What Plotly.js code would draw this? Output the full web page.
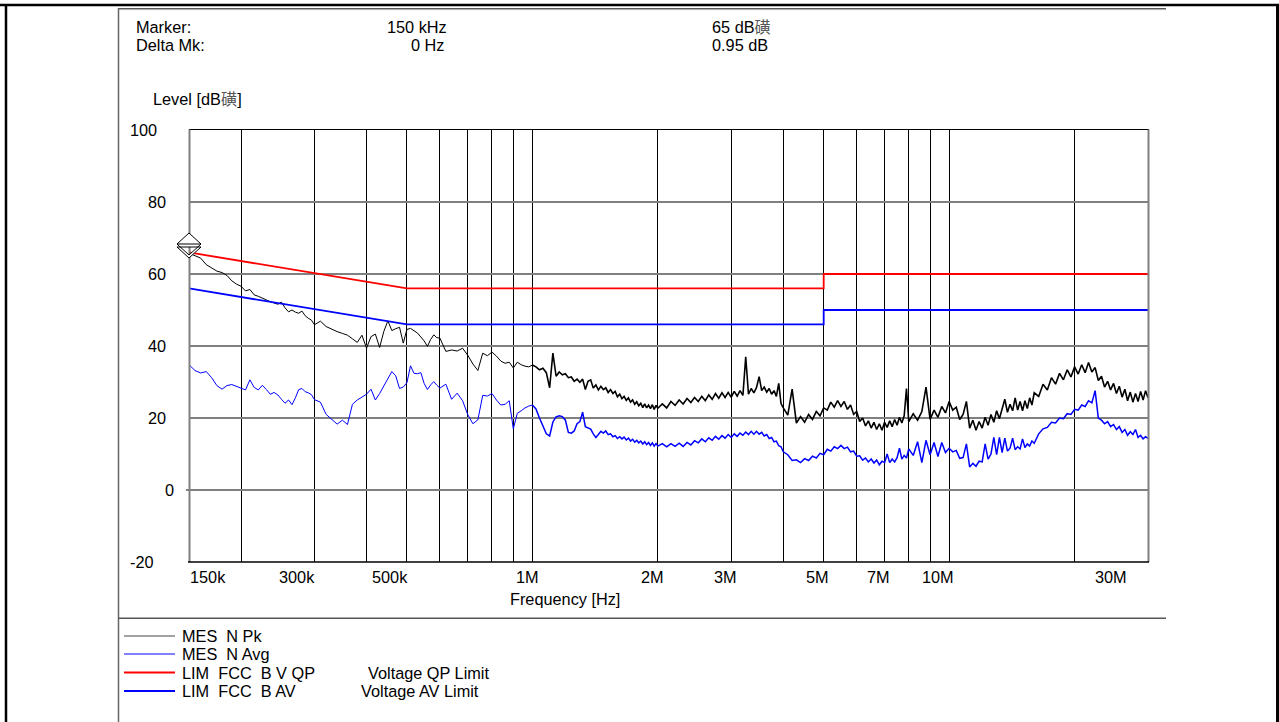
<!DOCTYPE html>
<html><head><meta charset="utf-8">
<script src="https://cdn.plot.ly/plotly-3.0.1.min.js"></script>
<style>html,body{margin:0;padding:0;background:#fff;overflow:hidden}#chart{width:1279px;height:722px}</style>
</head><body><div id="chart"></div>
<script>
// ---------------- data ----------------
const freqMHz = [
0.150,0.155,0.160,0.165,0.170,0.175,0.180,0.185,0.190,0.195,0.200,0.205,0.210,0.215,0.220,0.225,0.230,0.235,0.240,0.245,0.250,0.255,0.260,0.265,0.270,0.275,0.280,0.285,0.290,0.295,0.300,
0.31,0.32,0.33,0.34,0.35,0.36,0.37,0.38,0.39,0.40,0.41,0.42,0.43,0.44,0.45,0.46,0.47,0.48,0.49,0.50,0.51,0.52,0.53,0.54,0.55,0.56,0.57,0.58,0.59,0.60,
0.62,0.64,0.66,0.68,0.70,0.72,0.74,0.76,0.78,0.80,0.82,0.84,0.86,0.88,0.90,0.92,0.94,0.96,0.98,1.00,
1.02,1.04,1.06,1.08,1.10,1.12,1.14,1.16,1.18,1.20,1.22,1.24,1.26,1.28,1.30,1.32,1.34,1.36,1.38,1.40,1.42,1.44,1.46,1.48,1.50,1.52,1.54,1.56,1.58,1.60,1.62,1.64,1.66,1.68,1.70,1.72,1.74,1.76,1.78,1.80,1.82,1.84,1.86,1.88,1.90,1.92,1.94,1.96,1.98,2.00,
2.05,2.10,2.15,2.20,2.25,2.30,2.35,2.40,2.45,2.50,2.55,2.60,2.65,2.70,2.75,2.80,2.85,2.90,2.95,3.00,3.05,3.10,3.15,3.20,3.25,3.30,3.35,3.40,3.45,3.50,3.55,3.60,3.65,3.70,3.75,3.80,3.85,3.90,3.95,4.00,
4.1,4.2,4.3,4.4,4.5,4.6,4.7,4.8,4.9,5.0,5.1,5.2,5.3,5.4,5.5,5.6,5.7,5.8,5.9,6.0,6.1,6.2,6.3,6.4,6.5,6.6,6.7,6.8,6.9,7.0,7.1,7.2,7.3,7.4,7.5,7.6,7.7,7.8,7.9,8.0,
8.2,8.4,8.6,8.8,9.0,9.2,9.4,9.6,9.8,10.0,10.2,10.4,10.6,10.8,11.0,11.2,11.4,11.6,11.8,12.0,12.2,12.4,12.6,12.8,13.0,13.2,13.4,13.6,13.8,14.0,14.2,14.4,14.6,14.8,15.0,15.2,15.4,15.6,15.8,16.0,
16.4,16.8,17.2,17.6,18.0,18.4,18.8,19.2,19.6,20.0,20.4,20.8,21.2,21.6,22.0,22.4,22.8,23.2,23.6,24.0,24.4,24.8,25.2,25.6,26.0,26.4,26.8,27.2,27.6,28.0,28.4,28.8,29.2,29.6,30.0
];
const pkLevel = [
65.8,65.1,64.4,62.6,61.6,60.8,60.4,59.6,58.1,57.2,56.6,55.3,55.7,54.2,53.8,53.2,52.8,52.3,51.9,51.6,52.2,50.6,49.5,50.0,49.4,49.1,49.7,48.4,47.7,47.2,45.9,
46.9,45.4,44.6,44.0,43.5,43.0,42.0,41.0,43.0,39.4,42.6,43.3,39.6,44.0,47.0,44.3,44.8,45.2,40.8,44.6,44.9,44.2,43.6,42.5,41.4,39.9,41.8,43.1,42.3,42.2,
38.5,38.9,38.6,39.4,37.4,35.0,33.2,38.0,37.3,38.3,37.2,35.8,35.2,35.5,33.9,35.5,34.8,34.4,34.2,34.7,
34.2,33.4,33.8,32.6,28.4,38.0,31.6,32.8,32.0,32.3,31.2,31.4,30.2,30.8,29.9,30.8,27.9,30.2,30.6,28.3,29.2,27.8,28.8,27.9,28.4,27.1,27.9,26.8,27.4,25.9,26.6,25.4,26.0,24.9,25.6,24.4,25.0,23.8,24.5,23.4,24.1,22.9,23.9,22.8,23.6,22.6,23.7,22.4,23.5,22.7,
23.9,22.8,24.6,23.5,25.0,23.9,25.4,24.3,25.7,24.6,26.0,24.8,26.4,25.2,26.8,25.5,27.0,25.7,27.1,25.8,27.4,26.1,27.6,26.3,37.0,26.6,28.2,27.0,28.5,31.5,27.6,28.6,27.2,28.2,26.6,27.6,26.0,29.6,24.0,22.8,
20.8,28.0,18.6,20.4,18.8,21.0,19.6,21.8,20.6,22.8,22.2,24.4,23.0,24.8,23.2,24.6,22.4,23.6,21.0,21.8,19.0,20.0,17.8,19.2,17.2,18.8,16.8,18.4,16.6,18.8,17.4,19.2,17.6,19.6,18.0,20.2,18.6,20.6,28.2,19.0,
21.2,19.4,21.8,28.6,19.6,22.2,20.2,23.2,21.4,24.6,22.2,23.0,19.6,21.0,24.6,17.2,19.4,16.6,19.0,17.2,20.2,18.0,21.0,18.8,22.0,19.8,22.8,25.2,21.6,23.8,22.0,25.6,22.2,24.6,22.0,24.8,22.6,25.6,23.6,27.0,
26.0,29.4,27.8,31.2,29.4,32.4,30.6,33.4,31.4,34.2,32.2,34.8,32.6,35.4,32.8,34.0,30.4,31.6,28.6,30.2,27.8,29.6,26.8,28.8,25.8,28.0,24.8,27.2,24.4,26.8,24.6,27.4,25.0,27.6,25.6
];
const avgLevel = [
34.8,33.2,32.5,32.9,31.2,29.0,28.0,29.0,29.3,28.8,28.1,27.8,30.6,28.5,27.8,29.1,27.9,26.6,27.1,26.4,25.2,24.1,25.0,23.7,25.6,27.9,28.2,27.3,27.0,26.5,25.1,
24.4,21.0,19.6,18.3,19.4,18.2,23.8,25.0,25.8,26.6,28.0,25.0,26.8,28.8,31.0,32.9,31.7,28.2,28.6,29.8,34.5,32.4,32.3,32.6,29.6,27.9,29.2,30.1,29.1,28.3,
29.4,25.2,26.9,24.8,20.9,18.4,19.5,26.3,26.1,26.8,25.0,23.6,23.8,24.8,17.0,21.3,22.0,22.8,23.3,23.6,
22.5,20.0,18.0,15.6,15.0,18.9,20.3,20.6,20.4,19.4,16.0,15.8,16.4,18.4,19.0,21.6,17.6,17.2,16.9,15.6,14.6,15.4,16.3,15.8,16.4,15.4,15.6,14.8,15.1,14.3,14.8,14.2,14.7,13.9,14.4,13.6,14.1,13.3,13.8,13.1,13.6,12.8,13.4,12.6,13.2,12.4,13.1,12.2,12.9,12.2,
12.9,12.0,12.9,12.1,13.0,12.1,13.2,12.5,13.7,13.1,14.2,13.4,14.5,13.8,14.9,14.1,15.1,14.4,15.4,14.6,15.6,14.9,15.8,15.2,16.1,15.4,16.3,15.5,16.3,15.5,16.0,15.0,15.4,14.3,14.6,13.4,13.6,12.3,12.0,10.6,
9.8,8.2,8.4,7.6,8.7,8.2,9.4,8.9,10.2,9.8,11.3,10.8,12.0,11.5,12.4,11.5,11.9,10.6,10.8,9.4,9.5,8.3,8.9,7.8,8.6,7.5,8.3,7.0,8.0,7.6,10.0,7.6,8.6,7.8,9.0,11.6,8.6,9.6,8.9,11.4,
9.6,13.4,7.6,13.8,9.8,13.2,9.3,13.2,10.4,11.6,10.6,11.0,8.8,9.0,12.8,6.4,7.4,6.6,8.0,7.8,12.8,8.6,10.0,14.6,9.8,14.6,10.4,14.4,10.8,11.6,14.4,11.2,12.0,11.4,14.2,11.8,12.8,12.2,13.6,13.0,
15.6,17.0,17.4,18.8,18.6,20.0,19.8,21.2,21.0,22.4,22.2,23.6,23.2,24.8,24.2,27.6,20.0,19.4,18.4,19.0,17.6,18.2,16.8,17.6,16.0,16.8,15.2,16.2,15.4,16.8,14.6,15.2,14.2,14.8,14.3
];
const qpFreq = [0.15, 0.5, 5, 5, 30];
const qpLevel = [66, 56, 56, 60, 60];
const avFreq = [0.15, 0.5, 5, 5, 30];
const avLevel = [56, 46, 46, 50, 50];
const markerFreq = 0.15;
const markerLevel = 65;
const tickFreq = [0.15, 0.3, 0.5, 1, 2, 3, 5, 7, 10, 30];
const tickText = ['150k', '300k', '500k', '1M', '2M', '3M', '5M', '7M', '10M', '30M'];
const gridFreq = [0.2,0.3,0.4,0.5,0.6,0.7,0.8,0.9,1,2,3,4,5,6,7,8,9,10,20];
const yTickVals = [-20, 0, 20, 40, 60, 80, 100];
const seriesNames = ['MES\u00a0 N Pk', 'MES\u00a0 N Avg', 'LIM\u00a0 FCC\u00a0 B V QP', 'LIM\u00a0 FCC\u00a0 B AV'];
const seriesNotes = ['', '', 'Voltage QP Limit', 'Voltage AV Limit'];
const headerNames = ['Marker:', 'Delta Mk:'];
const headerFreq = ['150 kHz', '0 Hz'];
const headerLevel = ['65 dB磺', '0.95 dB'];

// ---------------- styling / layout ----------------
const W = 1279, H = 722, L = 189, R = 1148, T = 130, B = 562;
const PX = x => (x - L) / (R - L);
const PY = y => (B - y) / (B - T);
const FONT = 'Liberation Sans, Arial, Noto Sans CJK SC, sans-serif';
const FS = 16.3;
const xRange = [Math.log10(0.15), Math.log10(30)];
const colors = ['#000000', '#0000ff', '#ff0000', '#0000ff'];
const legendColors = ['#444444', '#0000ff', '#ff0000', '#0000ff'];
const legendWidths = [1, 1, 2, 2];
const legendRowsY = [636, 654, 672.5, 691];
const notesX = [0, 0, 366.5, 359.5];
const xLabelShift = [19.2, -17.4, -17.3, -5, -5.8, -5.7, -5.8, -6.3, -10.7, -37.2];
const yLabelShift = {'100': -45.3, '-20': -47.3, '0': -19.5};
const denseFrom = 1.0;   // above this frequency the sweep is drawn as a denser (heavier) band

const lowIdx = freqMHz.map((f, i) => i).filter(i => freqMHz[i] <= denseFrom);
const highIdx = freqMHz.map((f, i) => i).filter(i => freqMHz[i] >= denseFrom);
const pick = (arr, idx) => idx.map(i => arr[i]);

const mk = (x, y, name, color, width) => ({x: x, y: y, type: 'scatter', mode: 'lines', name: name,
  line: {color: color, width: width}, hoverinfo: 'skip', showlegend: false});

const traces = [
  mk(pick(freqMHz, lowIdx), pick(pkLevel, lowIdx), seriesNames[0], colors[0], 1.0),
  mk(pick(freqMHz, highIdx), pick(pkLevel, highIdx), seriesNames[0], colors[0], 1.6),
  mk(pick(freqMHz, lowIdx), pick(avgLevel, lowIdx), seriesNames[1], colors[1], 1.0),
  mk(pick(freqMHz, highIdx), pick(avgLevel, highIdx), seriesNames[1], colors[1], 1.5),
  mk(qpFreq, qpLevel, seriesNames[2], colors[2], 1.8),
  mk(avFreq, avLevel, seriesNames[3], colors[3], 1.8)
];

const ln = (x0, y0, x1, y1, color, width) => ({type: 'line', xref: 'paper', yref: 'paper', x0: PX(x0), y0: PY(y0), x1: PX(x1), y1: PY(y1), line: {color: color, width: width}, layer: 'above'});

const shapes = [
  // outer frame
  ln(0, 5, 1279, 5, '#000', 2.5),
  ln(6, 4, 6, 722, '#000', 2.5),
  ln(1277.5, 4, 1277.5, 722, '#000', 3),
  // inner frame
  ln(118, 8.5, 1166, 8.5, '#555', 1),
  ln(118, 9.6, 1166, 9.6, '#aaa', 1),
  ln(118.5, 8, 118.5, 722, '#666', 1.5),
  ln(118, 618.3, 1166, 618.3, '#555', 1.5),
  // plot border
  ln(189, 129.5, 1149, 129.5, '#000', 1),
  ln(189.5, 129.5, 189.5, 562, '#808080', 2),
  ln(1148.5, 129.5, 1148.5, 562, '#808080', 2),
  ln(188, 562, 1149, 562, '#000', 1.5),
  ln(186, 490, 189, 490, '#808080', 2)
];
seriesNames.forEach((n, i) => shapes.push(ln(124, legendRowsY[i], 175, legendRowsY[i], legendColors[i], legendWidths[i])));
// marker symbol (double diamond) anchored at the marker value
shapes.push({
  type: 'path', xref: 'paper', yref: 'y', xsizemode: 'pixel', ysizemode: 'pixel',
  xanchor: (Math.log10(markerFreq) - xRange[0]) / (xRange[1] - xRange[0]), yanchor: markerLevel,
  path: 'M-12,9 L0,-2 L12,9 Z M0,23 L12,12 L0,1 L-12,12 Z M-12,12 L12,12',
  line: {color: '#000', width: 1}, fillcolor: '#fff', layer: 'above'
});

const txt = (text, x, y, anchor, extra) => Object.assign({
  text: text, xref: 'paper', yref: 'paper', x: PX(x), y: PY(y), xanchor: anchor, yanchor: 'middle',
  showarrow: false, font: {family: FONT, size: FS, color: '#000'}, borderpad: 0
}, extra || {});

const annotations = [];
annotations.push(txt(headerNames[0], 135, 27, 'left'));
annotations.push(txt(headerNames[1], 135, 45, 'left'));
annotations.push(txt(headerFreq[0], 448, 27, 'right'));
annotations.push(txt(headerFreq[1], 444.5, 45, 'right'));
annotations.push(txt(headerLevel[0].replace('磺', '<span style="color:#555">磺</span>'), 711, 27, 'left'));
annotations.push(txt(headerLevel[1], 711, 45, 'left'));
annotations.push(txt('Level [dB<span style="color:#555">磺</span>]', 152, 99, 'left'));
annotations.push(txt('Frequency [Hz]', 564.6, 599, 'center'));
seriesNames.forEach((n, i) => {
  annotations.push(txt(n, 180.5, legendRowsY[i], 'left'));
  if (seriesNotes[i]) annotations.push(txt(seriesNotes[i], notesX[i], legendRowsY[i], 'left'));
});
tickFreq.forEach((f, i) => annotations.push({
  text: tickText[i], xref: 'x', yref: 'paper', x: Math.log10(f), y: PY(577), xanchor: 'center', yanchor: 'middle',
  xshift: xLabelShift[i], showarrow: false, font: {family: FONT, size: FS, color: '#000'}, borderpad: 0
}));
yTickVals.forEach(v => annotations.push({
  text: String(v), xref: 'paper', yref: 'y', x: 0, y: v, xanchor: 'center', yanchor: 'middle',
  xshift: (yLabelShift[String(v)] !== undefined ? yLabelShift[String(v)] : -32.3), showarrow: false,
  font: {family: FONT, size: FS, color: '#000'}, borderpad: 0
}));

const layout = {
  width: W, height: H, autosize: false,
  margin: {l: L, r: W - R, t: T, b: H - B, pad: 0},
  paper_bgcolor: '#fff', plot_bgcolor: '#fff',
  showlegend: false,
  xaxis: {type: 'log', range: xRange, tickmode: 'array', tickvals: gridFreq, showticklabels: false, ticks: '',
          showgrid: true, gridcolor: '#000', gridwidth: 1, zeroline: false, showline: false, fixedrange: true},
  yaxis: {range: [-20, 100], tickmode: 'array', tickvals: yTickVals, showticklabels: false, ticks: '',
          showgrid: true, gridcolor: '#808080', gridwidth: 2, zeroline: false, showline: false, fixedrange: true},
  shapes: shapes,
  annotations: annotations
};

Plotly.newPlot('chart', traces, layout, {displayModeBar: false, staticPlot: true});
</script>
</body></html>
